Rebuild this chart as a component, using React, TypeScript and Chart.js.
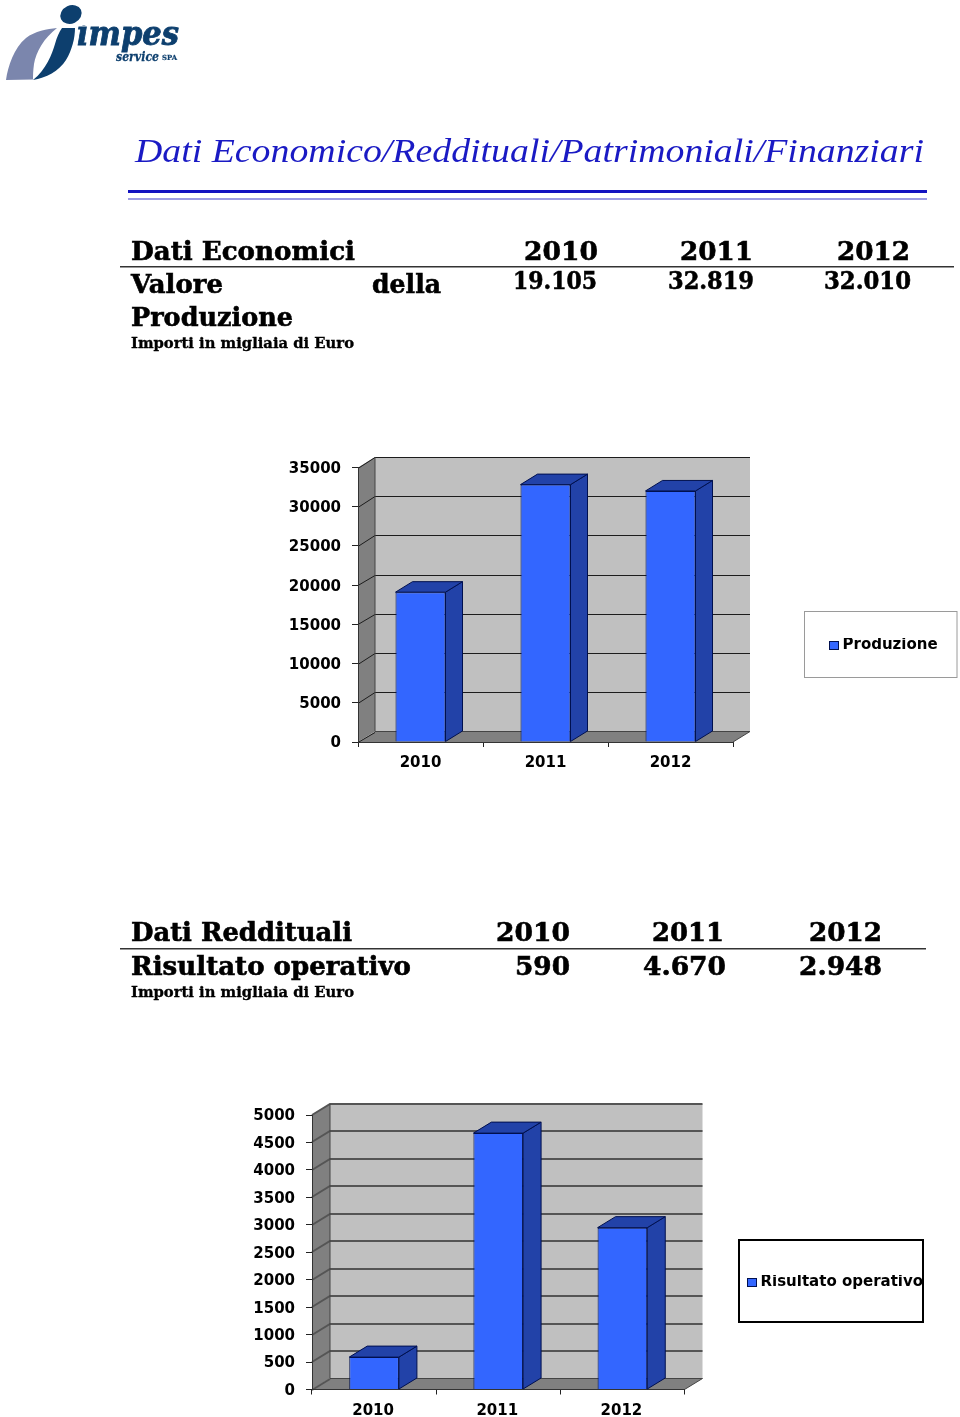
import React, { useEffect, useRef } from "react";
import { Chart, registerables } from "chart.js";

Chart.register(...registerables);

// ---------- data ----------
const categories = ["2010", "2011", "2012"];
const productionValues = [19105, 32819, 32010];
const operatingValues = [590, 4670, 2948];
const productionLabel = "Produzione";
const operatingLabel = "Risultato operativo";
const productionTable = ["19.105", "32.819", "32.010"];
const operatingTable = ["590", "4.670", "2.948"];
const pageTitle = "Dati Economico/Reddituali/Patrimoniali/Finanziari";
const unitNote = "Importi in migliaia di Euro";

const SERIF = "'DejaVu Serif', serif";
const BAR = "#3366ff";
const BAR_DARK = "#2242a8";
const BAR_EDGE = "#00104f";
const WALL = "#c0c0c0";
const SHADE = "#808080";

type Face = {
  left: number; top: number; width: number; height: number;
  plotLeft: number; plotRight: number; plotTop: number; plotBottom: number;
  dx: number; dy: number; max: number; step: number;
  gridColor: string; gridWidth: number; labelPad: number; xPad: number; xShift: number;
  legendBox: number[]; legendBorder: string; legendBorderWidth: number; legendText: number[];
};

const face1: Face = {
  left: 270, top: 445, width: 690, height: 340,
  plotLeft: 88, plotRight: 463, plotTop: 22.5, plotBottom: 297,
  dx: 17, dy: 10.5, max: 35000, step: 5000,
  gridColor: "#1c1c1c", gridWidth: 1, labelPad: 11, xPad: 7, xShift: 0,
  legendBox: [804.5, 611.5, 152.5, 66], legendBorder: "#9a9a9a", legendBorderWidth: 1, legendText: [829, 638],
};
const face2: Face = {
  left: 230, top: 1095, width: 730, height: 322,
  plotLeft: 82, plotRight: 454.5, plotTop: 19.5, plotBottom: 294.5,
  dx: 18, dy: 11, max: 5000, step: 500,
  gridColor: "#555555", gridWidth: 2, labelPad: 11, xPad: 8, xShift: -1,
  legendBox: [739, 1240, 184, 82], legendBorder: "#000000", legendBorderWidth: 2, legendText: [747, 1275],
};

function poly(ctx: CanvasRenderingContext2D, pts: number[][], fill?: string, stroke?: string, lw = 1) {
  ctx.beginPath();
  pts.forEach((p, i) => (i ? ctx.lineTo(p[0], p[1]) : ctx.moveTo(p[0], p[1])));
  ctx.closePath();
  if (fill) { ctx.fillStyle = fill; ctx.fill(); }
  if (stroke) { ctx.strokeStyle = stroke; ctx.lineWidth = lw; ctx.stroke(); }
}

function depthPlugin(f: Face) {
  const snap = (v: number) => (f.gridWidth % 2 ? Math.round(v) + 0.5 : Math.round(v));
  return {
    id: "depth3d",
    afterUpdate(chart: any) {
      const lg = chart.legend;
      if (!lg) return;
      const x = f.legendText[0] - f.left;
      const y = f.legendText[1] - f.top;
      lg.left = x; lg.right = x + 200; lg.top = y; lg.bottom = y + 40;
    },
    beforeDraw(chart: any) {
      const { ctx, scales } = chart;
      const xs = scales.x, ys = scales.y;
      const { dx, dy } = f;
      const l = xs.left, r = xs.right;
      const b = ys.getPixelForValue(0), t = ys.getPixelForValue(f.max);
      ctx.save();
      // back wall, side wall, floor
      poly(ctx, [[l + dx, t - dy], [r + dx, t - dy], [r + dx, b - dy], [l + dx, b - dy]], WALL);
      poly(ctx, [[l, t], [l + dx, t - dy], [l + dx, b - dy], [l, b]], SHADE);
      poly(ctx, [[l, b], [l + dx, b - dy], [r + dx, b - dy], [r, b]], SHADE);
      // wall grid lines, each one following the axis value
      ctx.strokeStyle = f.gridColor;
      ctx.lineWidth = f.gridWidth;
      ys.ticks.forEach((tk: any) => {
        const y = ys.getPixelForValue(tk.value);
        const front = snap(y), back = snap(y - dy);
        ctx.beginPath();
        ctx.moveTo(l, front);
        ctx.lineTo(l + dx, back);
        if (tk.value > 0) ctx.lineTo(r + dx, back);
        ctx.stroke();
      });
      ctx.lineWidth = 1;
      ctx.strokeStyle = "#444444";
      ctx.beginPath();
      ctx.moveTo(l + dx, t - dy);
      ctx.lineTo(l + dx, b - dy);
      ctx.lineTo(r + dx, b - dy);
      ctx.lineTo(r, b);
      ctx.stroke();
      // legend frame
      const [bx, by, bw, bh] = f.legendBox;
      ctx.strokeStyle = f.legendBorder;
      ctx.lineWidth = f.legendBorderWidth;
      ctx.strokeRect(bx - f.left, by - f.top, bw, bh);
      ctx.restore();
    },
    afterDatasetsDraw(chart: any) {
      const { ctx } = chart;
      const { dx, dy } = f;
      ctx.save();
      chart.getDatasetMeta(0).data.forEach((el: any) => {
        const p = el.getProps(["x", "y", "width", "base"], true);
        const a = p.x - p.width / 2, c = p.x + p.width / 2;
        poly(ctx, [[c, p.y], [c + dx, p.y - dy], [c + dx, p.base - dy], [c, p.base]], BAR_DARK, BAR_EDGE);
        poly(ctx, [[a, p.y], [a + dx, p.y - dy], [c + dx, p.y - dy], [c, p.y]], BAR_DARK, BAR_EDGE);
      });
      ctx.restore();
    },
    afterDraw(chart: any) {
      const lg = chart.legend;
      if (!lg) return;
      const { ctx } = chart;
      ctx.save();
      ctx.fillStyle = BAR;
      ctx.strokeStyle = BAR_EDGE;
      ctx.lineWidth = 1;
      const x = Math.round(lg.left) + 0.5;
      const y = Math.round(lg.top + 3) + 0.5;
      ctx.fillRect(x, y, 9, 8);
      ctx.strokeRect(x, y, 9, 8);
      ctx.restore();
    },
  };
}

function Bars3D({ values, label, face }: { values: number[]; label: string; face: Face }) {
  const ref = useRef<HTMLCanvasElement>(null);
  useEffect(() => {
    const tickFont = { family: "'DejaVu Sans'", size: 15, weight: "bold" as const };
    const chart = new Chart(ref.current as HTMLCanvasElement, {
      type: "bar",
      data: {
        labels: categories,
        datasets: [{
          label,
          data: values,
          backgroundColor: BAR,
          borderColor: BAR_EDGE,
          borderWidth: 1,
          barPercentage: 0.4,
          categoryPercentage: 1,
        }],
      },
      options: {
        animation: false,
        responsive: false,
        devicePixelRatio: 1,
        layout: {
          padding: {
            left: 0,
            top: face.plotTop,
            right: face.width - face.plotRight,
            bottom: 0,
          },
        },
        plugins: {
          tooltip: { enabled: false },
          title: { display: false },
          legend: {
            display: true,
            position: "chartArea" as any,
            align: "start",
            labels: {
              boxWidth: 6,
              boxHeight: 8,
              padding: 0,
              color: "#000",
              font: tickFont,
            },
          },
        },
        scales: {
          x: {
            type: "category",
            offset: true,
            afterFit: (s: any) => { s.height = face.height - face.plotBottom; },
            border: { display: true, color: "#333", width: 1, dash: [2, 1] },
            grid: { offset: true, drawOnChartArea: false, drawTicks: true, tickLength: 5, tickColor: "#222" },
            ticks: { color: "#000", font: tickFont, padding: face.xPad, maxRotation: 0, labelOffset: face.xShift },
          },
          y: {
            type: "linear",
            min: 0,
            max: face.max,
            afterFit: (s: any) => { s.width = face.plotLeft; },
            border: { display: true, color: "#333", width: 1 },
            grid: { drawOnChartArea: false, drawTicks: true, tickLength: 6, tickColor: "#222" },
            ticks: {
              stepSize: face.step,
              color: "#000",
              font: tickFont,
              padding: face.labelPad,
              labelOffset: 1.5,
              callback: (v: any) => String(v),
            },
          },
        },
      } as any,
      plugins: [depthPlugin(face)],
    });
    return () => chart.destroy();
  }, []);
  return (
    <canvas
      ref={ref}
      width={face.width}
      height={face.height}
      style={{ position: "absolute", left: face.left, top: face.top }}
    />
  );
}

function T({ x, y, w, size, children, italic, bold = true, fill = "#000", family = SERIF, heavy = 0.6 }: any) {
  return (
    <text
      x={x}
      y={y}
      textLength={w}
      lengthAdjust="spacingAndGlyphs"
      fontFamily={family}
      fontSize={size}
      fontWeight={bold ? "bold" : "normal"}
      fontStyle={italic ? "italic" : "normal"}
      fill={fill}
      stroke={bold ? fill : "none"}
      strokeWidth={bold ? heavy : 0}
    >
      {children}
    </text>
  );
}

const H = 25.5;
const N = 24;
const S = 15;

export default function App() {
  return (
    <div style={{ position: "absolute", left: 0, top: 0, width: 960, height: 1417, overflow: "hidden", background: "#fff" }}>
      <Bars3D values={productionValues} label={productionLabel} face={face1} />
      <Bars3D values={operatingValues} label={operatingLabel} face={face2} />
      <svg width={960} height={1417} style={{ position: "absolute", left: 0, top: 0, pointerEvents: "none" }}>
        <defs>
          <clipPath id="noDot"><rect x="70" y="25.5" width="120" height="40" /></clipPath>
        </defs>
        {/* logo */}
        <path d="M6 80 C8 66 14 48 26 38 C35 31 47 29 57 28 C44 38 36 52 34 64 C33 71 33 76 33 79.5 Z" fill="#7b86ad" />
        <path d="M33 80 C46 70 52 54 55 44 C57 37 59 32 62 28 L75 28 C75 38 72 50 66 60 C59 71 46 78 33 80 Z" fill="#0d3f6e" />
        <ellipse cx="71" cy="14.5" rx="11" ry="9" transform="rotate(-25 71 14.5)" fill="#0d3f6e" />
        <g clipPath="url(#noDot)">
          <T x={77} y={45} w={102} size={34} italic fill="#0d3f6e" heavy={0.9}>impes</T>
        </g>
        <T x={116} y={60.5} w={43} size={13.5} italic fill="#0d3f6e" heavy={0.3}>service</T>
        <T x={162} y={60} w={15} size={7} fill="#0d3f6e" heavy={0.2}>SPA</T>

        {/* title */}
        <T x={135} y={162} w={789} size={34} italic bold={false} fill="#1a1ac4" family="'Liberation Serif', serif">{pageTitle}</T>
        <rect x={128} y={190} width={799} height={3} fill="#1212c0" />
        <rect x={128} y={198.5} width={799} height={1} fill="#3a3ac8" />

        {/* economic table */}
        <T x={131} y={259.5} w={224} size={H}>Dati Economici</T>
        <T x={524} y={259.5} w={74} size={H}>{categories[0]}</T>
        <T x={680} y={259.5} w={73} size={H}>{categories[1]}</T>
        <T x={837} y={259.5} w={73} size={H}>{categories[2]}</T>
        <rect x={120} y={266} width={834} height={1.5} fill="#333" />
        <T x={131} y={293} w={92} size={H}>Valore</T>
        <T x={372} y={293} w={69} size={H}>della</T>
        <T x={513} y={289} w={84} size={N}>{productionTable[0]}</T>
        <T x={668} y={289} w={86} size={N}>{productionTable[1]}</T>
        <T x={824} y={289} w={87} size={N}>{productionTable[2]}</T>
        <T x={131} y={326} w={162} size={H}>{productionLabel}</T>
        <T x={131} y={347.5} w={223} size={S} heavy={0.35}>{unitNote}</T>

        {/* income table */}
        <T x={131} y={941} w={221} size={H}>Dati Reddituali</T>
        <T x={496} y={941} w={74} size={H}>{categories[0]}</T>
        <T x={652} y={941} w={72} size={H}>{categories[1]}</T>
        <T x={809} y={941} w={73} size={H}>{categories[2]}</T>
        <rect x={120} y={948} width={806} height={1.5} fill="#333" />
        <T x={131} y={975} w={280} size={H}>{operatingLabel}</T>
        <T x={515} y={975} w={55} size={H}>{operatingTable[0]}</T>
        <T x={643} y={975} w={83} size={H}>{operatingTable[1]}</T>
        <T x={799} y={975} w={83} size={H}>{operatingTable[2]}</T>
        <T x={131} y={996.5} w={223} size={S} heavy={0.35}>{unitNote}</T>
      </svg>
    </div>
  );
}
